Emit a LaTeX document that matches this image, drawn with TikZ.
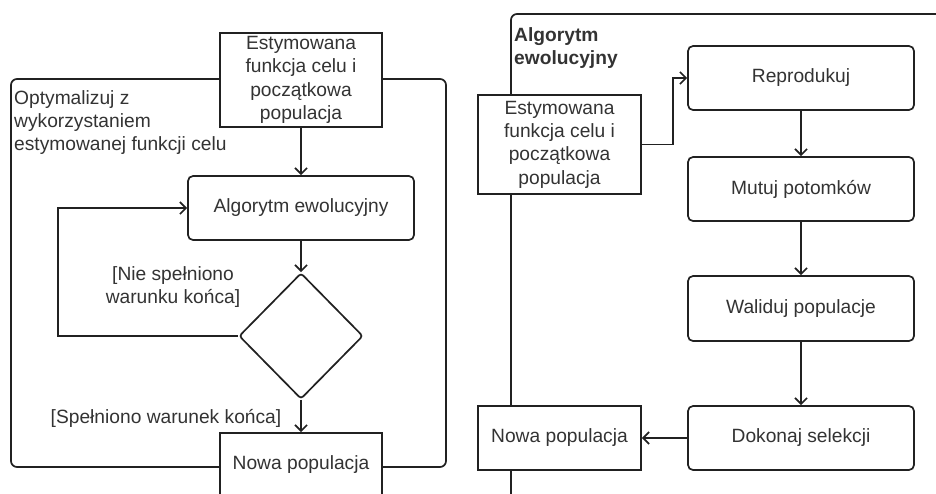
\documentclass[tikz,border=0pt]{standalone}
\usepackage{fontspec}
\setmainfont{Liberation Sans}
\usetikzlibrary{arrows.meta,shapes.geometric}
\definecolor{LineClr}{rgb}{0.13,0.13,0.13}
\definecolor{TextClr}{rgb}{0.2,0.2,0.2}

\tikzset{
  box/.style={draw=LineClr,fill=white,line width=1.7pt,inner sep=0pt,
    align=center,text=TextClr,font=\fontsize{19.2pt}{23.3pt}\selectfont},
  stepbox/.style={box,rounded corners=5pt,minimum width=226pt,minimum height=64pt},
  databox/.style={box,minimum width=162pt},
  label/.style={text=TextClr,inner sep=0pt,font=\fontsize{19.2pt}{23.3pt}\selectfont},
  frame/.style={draw=LineClr,line width=1.7pt,rounded corners=6pt},
  flow/.style={draw=LineClr,line width=1.7pt,-{Straight Barb[length=6pt,width=12pt]}}
}

\begin{document}
\begin{tikzpicture}[x=1pt,y=-1pt]
\useasboundingbox (0,0) rectangle (936,493);
\clip (0,0) rectangle (936,493);

% left part
\draw[frame] (11,79) rectangle (446,467);
\node[label,align=left,anchor=north west] (optL) at (14,90)
  {Optymalizuj z\\wykorzystaniem\\estymowanej funkcji celu};

\node[databox,minimum height=94pt] (startL) at (301,80)
  {Estymowana\\funkcja celu i\\początkowa\\populacja};
\node[stepbox] (algL) at (301,208) {Algorytm ewolucyjny};
\node[draw=LineClr,fill=white,line width=1.7pt,diamond,inner sep=0pt,
  rounded corners=3pt,minimum width=124pt,minimum height=126pt] (decL) at (301,336) {};
\node[databox,minimum height=64pt] (newL) at (301,465) {Nowa populacja};

\node[label,align=center] (noL) at (173,287) {[Nie spełniono\\warunku końca]};
\node[label] (yesL) at (166,418) {[Spełniono warunek końca]};

\draw[flow] (startL) -- (algL);
\draw[flow] (algL) -- (decL);
\draw[flow] (decL.west) -- ++(-180,0) |- (algL.west);
\draw[flow] (decL) -- (newL);

% right part
\draw[frame] (511,14) rectangle (1000,560);
\node[label,align=left,anchor=north west,font=\fontsize{19.2pt}{23.3pt}\selectfont\bfseries]
  (titleR) at (514,27) {Algorytm\\ewolucyjny};

\node[databox,minimum width=163pt,minimum height=99pt] (startR) at (559.5,144.5)
  {Estymowana\\funkcja celu i\\początkowa\\populacja};
\node[stepbox] (repR) at (801,78) {Reprodukuj};
\node[stepbox] (mutR) at (801,189) {Mutuj potomków};
\node[stepbox,minimum height=65pt] (walR) at (801,308.5) {Waliduj populacje};
\node[stepbox] (selR) at (801,438) {Dokonaj selekcji};
\node[databox,minimum width=163pt,minimum height=64pt] (newR) at (559.5,438) {Nowa populacja};

\draw[flow] (startR.east) -- ++(31,0) |- (repR.west);
\draw[flow] (repR) -- (mutR);
\draw[flow] (mutR) -- (walR);
\draw[flow] (walR) -- (selR);
\draw[flow] (selR) -- (newR);

\end{tikzpicture}
\end{document}
